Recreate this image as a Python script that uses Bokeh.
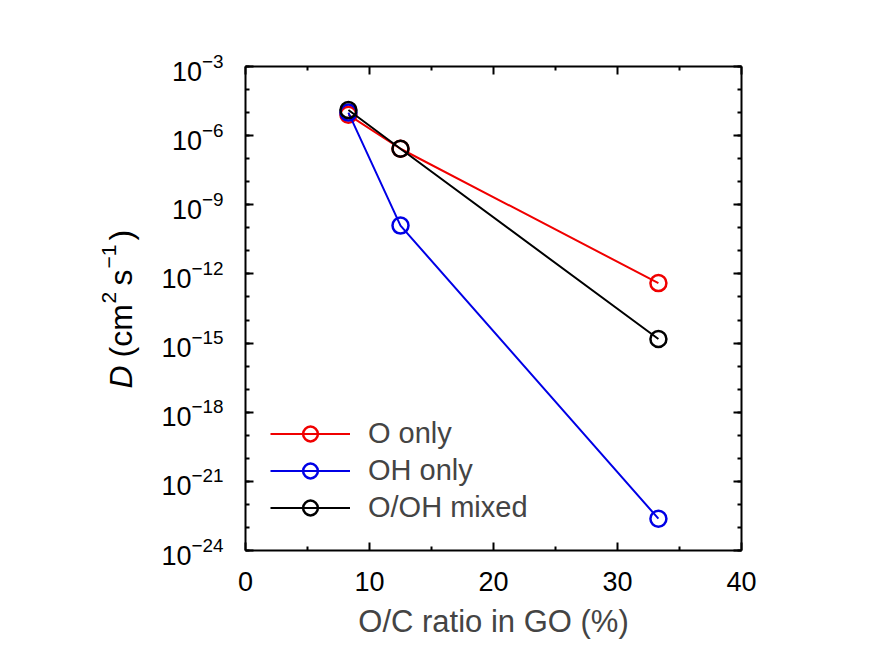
import math
from bokeh.plotting import figure
from bokeh.layouts import row
from bokeh.models import (FixedTicker, LinearAxis, LogAxis, Legend, LegendItem,
                          Range1d, LogTickFormatter)
from bokeh.core.properties import value
from bokeh.embed import file_html
from bokeh.resources import INLINE

# ---- data ----
oc_ratio = [8.3, 12.5, 33.3]
d_o_only = [8.0e-6, 2.7e-7, 4.0e-13]
d_oh_only = [1.0e-5, 1.25e-10, 2.4e-23]
d_mixed = [1.3e-5, 2.7e-7, 1.5e-15]

series_names = ["O only", "OH only", "O/OH mixed"]
series_colors = ["#f00000", "#0000e6", "#000000"]

x_ticks = [0, 10, 20, 30, 40]
x_minor = [5, 15, 25, 35]
y_exps = [-24, -21, -18, -15, -12, -9, -6, -3]

FONT = "Liberation Sans"

TOTAL_W, TOTAL_H = 868, 642
LABEL_W = 140
FRAME_L, FRAME_T, FRAME_W, FRAME_H = 245, 66, 496, 484

# ---- main plot ----
p = figure(width=TOTAL_W - LABEL_W, height=TOTAL_H, output_backend="svg", toolbar_location=None,
           y_axis_type="log", x_range=Range1d(0, 40), y_range=Range1d(1e-24, 1e-3),
           min_border_left=FRAME_L - LABEL_W, min_border_right=TOTAL_W - FRAME_L - FRAME_W,
           min_border_top=FRAME_T, min_border_bottom=TOTAL_H - FRAME_T - FRAME_H)
p.grid.visible = False
p.outline_line_color = None
p.background_fill_color = "white"
p.border_fill_color = "white"

yt = FixedTicker(ticks=[10.0 ** e for e in y_exps],
                 minor_ticks=[10.0 ** e for e in range(-24, -2)])
xt = FixedTicker(ticks=x_ticks, minor_ticks=x_minor)


def style_axis(ax, labels=True):
    ax.axis_line_width = 2
    ax.axis_line_color = "black"
    ax.major_tick_in = 8
    ax.major_tick_out = 0
    ax.minor_tick_in = 4
    ax.minor_tick_out = 0
    ax.major_tick_line_width = 2
    ax.minor_tick_line_width = 2
    ax.major_label_text_font = FONT
    ax.major_label_text_font_size = "27px"
    ax.major_label_text_color = "black" if labels else None


xa = p.xaxis[0]
xa.ticker = xt
style_axis(xa)
xa.major_label_standoff = 21
xa.axis_label = "O/C ratio in GO (%)"
xa.axis_label_text_font = FONT
xa.axis_label_text_font_size = "31px"
xa.axis_label_text_font_style = "normal"
xa.axis_label_standoff = 10

ya = p.yaxis[0]
ya.ticker = yt
ya.formatter = LogTickFormatter()
style_axis(ya)
ya.major_label_standoff = 22

top = LinearAxis(ticker=xt)
style_axis(top, labels=False)
p.add_layout(top, "above")
right = LogAxis(ticker=yt)
style_axis(right, labels=False)
p.add_layout(right, "right")

items = []
for xs, ys, name, col in [(oc_ratio, d_o_only, series_names[0], series_colors[0]),
                          (oc_ratio, d_oh_only, series_names[1], series_colors[1]),
                          (oc_ratio, d_mixed, series_names[2], series_colors[2])]:
    ln = p.line(xs, ys, line_color=col, line_width=2)
    sc = p.scatter(xs, ys, marker="circle", size=16, fill_color=None, line_color=col, line_width=2.5)
    items.append(LegendItem(label=name, renderers=[ln, sc]))

legend = Legend(items=items, location=(25, 24), glyph_width=80, glyph_height=37,
                label_height=37, spacing=0, padding=0, margin=0, label_standoff=18,
                label_text_font=FONT, label_text_font_size="29px",
                border_line_color=None, background_fill_alpha=0)
p.add_layout(legend, "center")

# ---- y axis title panel (italic D and superscripts need separate pieces) ----
# the row aligns this panel's frame with the main frame, so map page pixels directly
q = figure(width=LABEL_W, height=TOTAL_H, output_backend="svg", toolbar_location=None,
           x_range=Range1d(0, LABEL_W), y_range=Range1d(FRAME_T + FRAME_H, FRAME_T),
           x_axis_location=None, y_axis_location=None,
           min_border_left=0, min_border_right=0,
           min_border_top=FRAME_T, min_border_bottom=TOTAL_H - FRAME_T - FRAME_H)
q.grid.visible = False
q.outline_line_color = None
q.background_fill_color = "white"
q.border_fill_color = "white"

title_pieces = [("D", 388, 120, "32px", "italic"),
                ("(cm", 357, 120, "32px", "normal"),
                ("2", 303, 108, "21px", "normal"),
                ("s", 285, 120, "32px", "normal"),
                ("\u22121", 268, 108, "21px", "normal"),
                (")", 240, 120, "32px", "normal")]
for txt, py, px, fs, style in title_pieces:
    q.text(x=[px], y=[py], text=[txt], angle=math.pi / 2,
           text_align="left", text_baseline="alphabetic",
           text_font=value(FONT), text_font_size=fs, text_font_style=style,
           text_color="black")

layout = row(q, p, spacing=0)
open("out.html", "w").write(file_html(layout, INLINE))
